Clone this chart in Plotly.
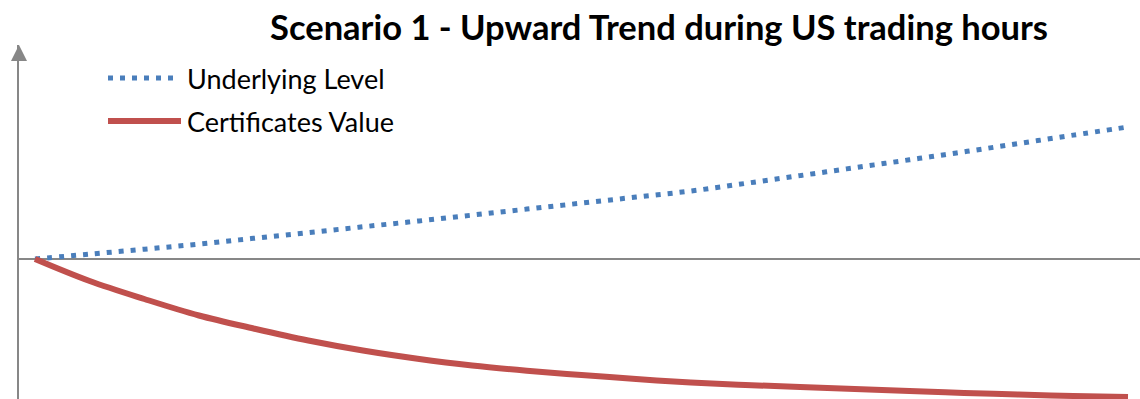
import plotly.graph_objects as go

# Time steps across the US trading session
steps = list(range(21))

# Underlying level (relative to the open)
underlying_level = [0, 4.9, 9.8, 14.9, 20.7, 26.4, 32.2, 37.9, 43.9, 49.9, 55.9,
                    61.9, 68.0, 75.6, 83.4, 91.3, 99.2, 107.2, 115.5, 123.9, 132.0]

# Certificates value (relative to the open)
certificates_value = [0, -22, -40, -56.5, -69.5, -81.5, -91.5, -99.7, -106.5, -111.7, -116,
                      -120, -123.5, -126, -128, -130, -132, -134, -135.5, -137, -138]

series_names = ["Underlying Level", "Certificates Value"]
title_text = "Scenario 1 - Upward Trend during US trading hours"

BLUE = "#4A7EBB"
RED = "#C0504D"
AXIS = "#878787"
FONT = "Lato"

W, H = 1140, 399
M_L, M_R, M_T, M_B = 19, 0, 45, 0
PW, PH = W - M_L - M_R, H - M_T - M_B


def px(x):
    return (x - M_L) / PW


def py(y):
    return (H - M_B - y) / PH


fig = go.Figure()
fig.add_trace(go.Scatter(
    x=steps, y=underlying_level, mode="lines", name=series_names[0],
    line=dict(color=BLUE, width=5, dash="5px,7px", shape="spline"),
    showlegend=False, hoverinfo="skip",
))
fig.add_trace(go.Scatter(
    x=steps, y=certificates_value, mode="lines", name=series_names[1],
    line=dict(color=RED, width=6, shape="spline"),
    showlegend=False, hoverinfo="skip",
))

shapes = [
    # arrow head on top of the vertical axis
    dict(type="path", xref="paper", yref="paper",
         path=f"M {px(19)} {py(45)} L {px(11)} {py(61)} L {px(27)} {py(61)} Z",
         fillcolor=AXIS, line=dict(width=0)),
    # legend samples
    dict(type="line", xref="paper", yref="paper",
         x0=px(108), x1=px(174), y0=py(78), y1=py(78),
         line=dict(color=BLUE, width=5, dash="5px,7px")),
    dict(type="line", xref="paper", yref="paper",
         x0=px(108), x1=px(181), y0=py(121), y1=py(121),
         line=dict(color=RED, width=6)),
]

annotations = [
    dict(text=series_names[0], xref="paper", yref="paper", x=px(185), y=py(78),
         xanchor="left", yanchor="middle", showarrow=False,
         font=dict(family=FONT, size=27, color="#000000")),
    dict(text=series_names[1], xref="paper", yref="paper", x=px(185), y=py(121),
         xanchor="left", yanchor="middle", showarrow=False,
         font=dict(family=FONT, size=27, color="#000000")),
]

fig.update_layout(
    width=W, height=H,
    margin=dict(l=M_L, r=M_R, t=M_T, b=M_B, pad=0),
    paper_bgcolor="white", plot_bgcolor="white",
    title=dict(text=f"<b>{title_text}</b>", x=659 / W, xanchor="center",
               xref="container", y=1 - 28 / H, yanchor="middle", yref="container",
               font=dict(family=FONT, size=34.5, color="#000000")),
    xaxis=dict(range=[-16 / 54.65, 20 + 12 / 54.65], showgrid=False, zeroline=False,
               showticklabels=False, ticks="", showline=False, fixedrange=True),
    yaxis=dict(range=[-140, 214], showgrid=False, zeroline=True, zerolinecolor=AXIS,
               zerolinewidth=2, showticklabels=False, ticks="", showline=True,
               linecolor=AXIS, linewidth=2, fixedrange=True),
    shapes=shapes, annotations=annotations, showlegend=False,
)

fig.write_html("out.html")
